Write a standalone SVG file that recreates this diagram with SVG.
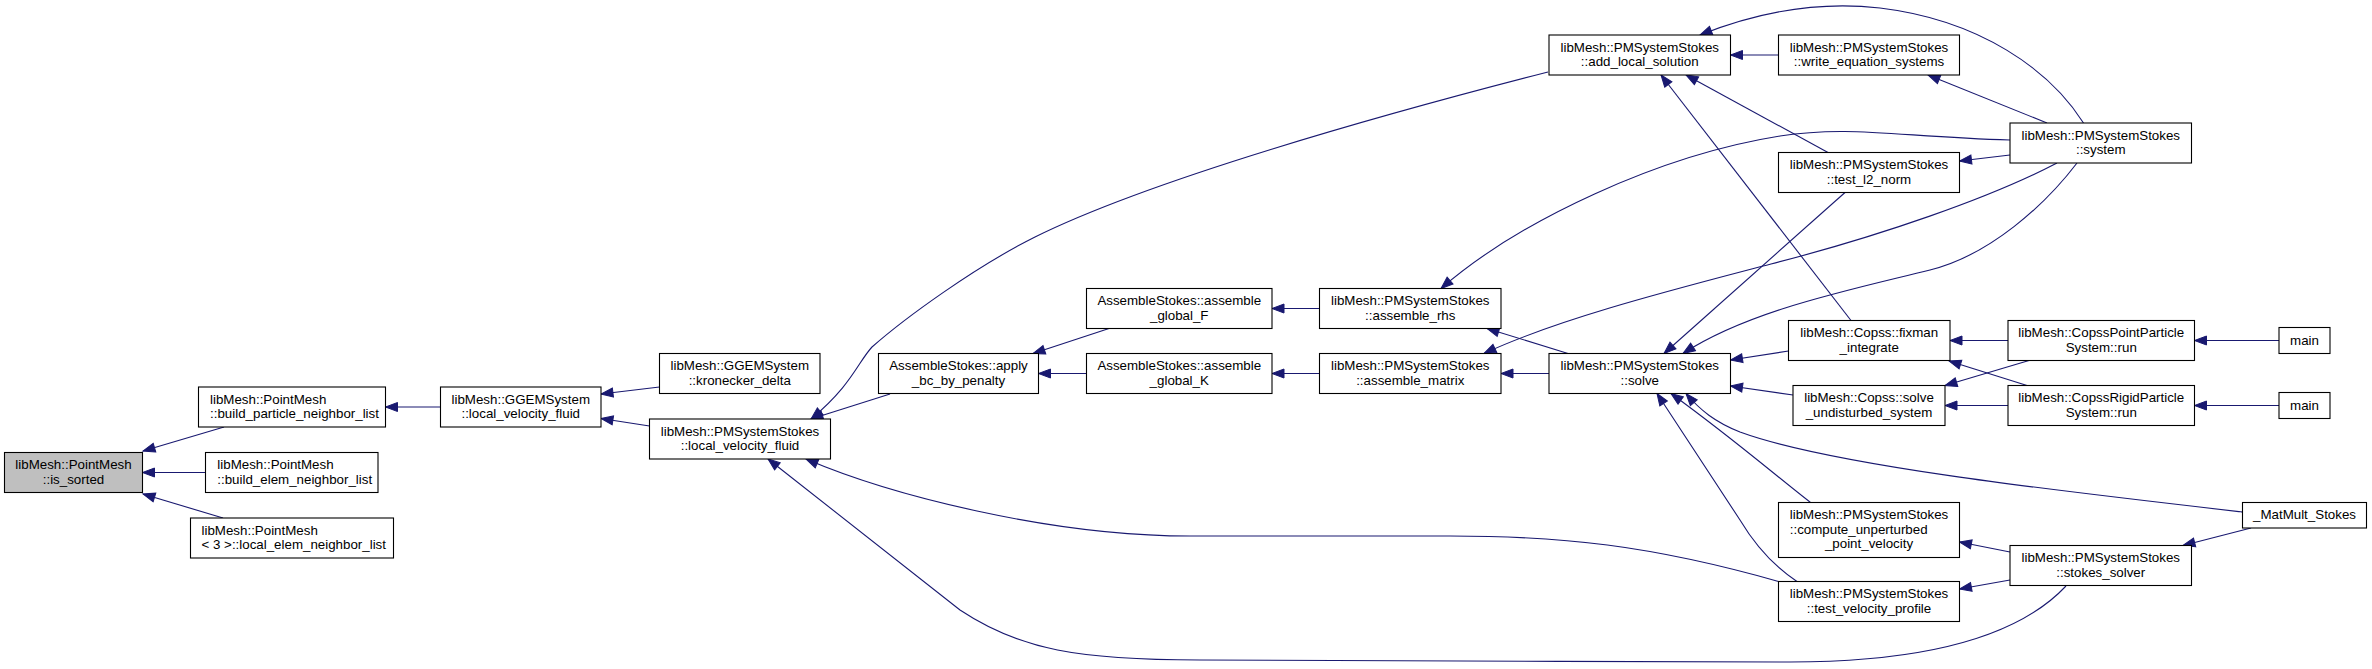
<svg xmlns="http://www.w3.org/2000/svg" width="2372" height="669" viewBox="0 0 2372 669">
<style>
.n rect{fill:#fff;stroke:#000;stroke-width:1.1}
.n text{font-family:"Liberation Sans",Arial,sans-serif;font-size:13.33px;fill:#000}
.c{text-anchor:middle}
.l{text-anchor:start}
.e path{fill:none;stroke:#191970;stroke-width:1.1;marker-end:url(#ah)}
</style>
<defs>
<marker id="ah" markerWidth="13" markerHeight="10" refX="12" refY="4.5" orient="auto" markerUnits="userSpaceOnUse" overflow="visible">
<path d="M0,0 L12,4.5 L0,9 z" fill="#191970" stroke="#191970" stroke-width="1"/>
</marker>
</defs>
<rect width="2372" height="669" fill="#fff"/>
<g id="edges" class="e">
<path d="M224,427 L143,451"/>
<path d="M205.5,472.5 L142.5,472.5"/>
<path d="M223,518 L143,494"/>
<path d="M440.5,407 L385.5,407"/>
<path d="M659.5,387 L601,394"/>
<path d="M649.5,426 L601,418.5"/>
<path d="M890,394 L811,419"/>
<path d="M1548,72 C1380,115 1150,180 1035,237 C975,267 905,318 872,347 C858,362 852,385 811,419"/>
<path d="M1109,328.5 L1033,353.5"/>
<path d="M1086.5,373.5 L1038.5,373.5"/>
<path d="M1319.5,308.5 L1272,308.5"/>
<path d="M1319.5,373.5 L1272,373.5"/>
<path d="M2010,140 C1900,137 1850,125 1780,136 C1660,155 1520,220 1441,288.5"/>
<path d="M1568,353.5 L1487,328.5"/>
<path d="M2057,163 C1990,198 1880,236 1771,264 C1680,288 1560,318 1484,353.5"/>
<path d="M1549,373.5 L1501,373.5"/>
<path d="M1778.5,55 L1730.5,55"/>
<path d="M2083.5,123 C2050,70 1980,20 1880,8 C1810,0 1750,15 1700,35"/>
<path d="M1828,152.5 L1686,75"/>
<path d="M1851,320.5 L1661,75"/>
<path d="M2047,123 L1928,75"/>
<path d="M2010,155 L1959.5,161"/>
<path d="M1845,192.5 L1664,353.5"/>
<path d="M2077,163 C2045,205 1990,255 1930,270 C1850,290 1750,310 1683,353.5"/>
<path d="M1788.5,351 L1730.5,360"/>
<path d="M1793,395 L1730.5,386"/>
<path d="M1810.5,502.5 C1775,475 1735,440 1671,393.5"/>
<path d="M1797,581.5 C1772,565 1755,545 1740,520 L1657,393.5"/>
<path d="M2242.5,512 C2050,490 1830,465 1740,432 C1715,422 1700,410 1686,393.5"/>
<path d="M2008,340.5 L1950,340.5"/>
<path d="M2027,385.5 L1949,361"/>
<path d="M2029,360.5 L1945,385.5"/>
<path d="M2008,405.5 L1945,405.5"/>
<path d="M2279,340.5 L2194.5,340.5"/>
<path d="M2279,405.5 L2194.5,405.5"/>
<path d="M2010,552 L1959.5,542"/>
<path d="M2010,580 L1959.5,589"/>
<path d="M2251,528 L2183,545.5"/>
<path d="M1778.5,581.5 C1650,545 1560,536 1450,536 L1190,536 C1050,536 890,495 806,459"/>
<path d="M2066,586 C2020,635 1930,662 1790,662 C1600,662 1350,660 1200,660 C1080,660 1020,650 960,610 L768,459"/>
</g>
<g id="n_is_sorted" class="n"><rect x="4.5" y="452.5" width="138" height="40" style="fill:#bfbfbf"/><text class="c" x="73.5" y="469">libMesh::PointMesh</text><text class="c" x="73.5" y="483.5">::is_sorted</text></g>
<g id="n_build_particle" class="n"><rect x="198.5" y="387" width="187" height="40"/><text class="l" x="210" y="403.5">libMesh::PointMesh</text><text class="l" x="210" y="418">::build_particle_neighbor_list</text></g>
<g id="n_build_elem" class="n"><rect x="205.5" y="452.5" width="172.5" height="40"/><text class="l" x="217.3" y="469">libMesh::PointMesh</text><text class="l" x="217.3" y="483.5">::build_elem_neighbor_list</text></g>
<g id="n_local_elem" class="n"><rect x="190.5" y="518" width="203" height="40"/><text class="l" x="201.5" y="534.5">libMesh::PointMesh</text><text class="l" x="201.5" y="549">&lt; 3 &gt;::local_elem_neighbor_list</text></g>
<g id="n_ggem_lvf" class="n"><rect x="440.5" y="387" width="160.5" height="40"/><text class="c" x="520.75" y="403.5">libMesh::GGEMSystem</text><text class="c" x="520.75" y="418">::local_velocity_fluid</text></g>
<g id="n_kronecker" class="n"><rect x="659.5" y="353.5" width="160.5" height="40"/><text class="c" x="739.75" y="370">libMesh::GGEMSystem</text><text class="c" x="739.75" y="384.5">::kronecker_delta</text></g>
<g id="n_pms_lvf" class="n"><rect x="649.5" y="419" width="181" height="40"/><text class="c" x="740" y="435.5">libMesh::PMSystemStokes</text><text class="c" x="740" y="450">::local_velocity_fluid</text></g>
<g id="n_apply_bc" class="n"><rect x="878.5" y="353.5" width="160" height="40"/><text class="c" x="958.5" y="370">AssembleStokes::apply</text><text class="c" x="958.5" y="384.5">_bc_by_penalty</text></g>
<g id="n_global_F" class="n"><rect x="1086.5" y="288.5" width="185.5" height="40"/><text class="c" x="1179.25" y="305">AssembleStokes::assemble</text><text class="c" x="1179.25" y="319.5">_global_F</text></g>
<g id="n_global_K" class="n"><rect x="1086.5" y="353.5" width="185.5" height="40"/><text class="c" x="1179.25" y="370">AssembleStokes::assemble</text><text class="c" x="1179.25" y="384.5">_global_K</text></g>
<g id="n_assemble_rhs" class="n"><rect x="1319.5" y="288.5" width="181.5" height="40"/><text class="c" x="1410.25" y="305">libMesh::PMSystemStokes</text><text class="c" x="1410.25" y="319.5">::assemble_rhs</text></g>
<g id="n_assemble_matrix" class="n"><rect x="1319.5" y="353.5" width="181.5" height="40"/><text class="c" x="1410.25" y="370">libMesh::PMSystemStokes</text><text class="c" x="1410.25" y="384.5">::assemble_matrix</text></g>
<g id="n_add_local_solution" class="n"><rect x="1549" y="35" width="181.5" height="40"/><text class="c" x="1639.75" y="51.5">libMesh::PMSystemStokes</text><text class="c" x="1639.75" y="66">::add_local_solution</text></g>
<g id="n_write_eq" class="n"><rect x="1778.5" y="35" width="181" height="40"/><text class="c" x="1869" y="51.5">libMesh::PMSystemStokes</text><text class="c" x="1869" y="66">::write_equation_systems</text></g>
<g id="n_system" class="n"><rect x="2010" y="123" width="181.5" height="40"/><text class="c" x="2100.75" y="139.5">libMesh::PMSystemStokes</text><text class="c" x="2100.75" y="154">::system</text></g>
<g id="n_test_l2" class="n"><rect x="1778.5" y="152.5" width="181" height="40"/><text class="c" x="1869" y="169">libMesh::PMSystemStokes</text><text class="c" x="1869" y="183.5">::test_l2_norm</text></g>
<g id="n_solve" class="n"><rect x="1549" y="353.5" width="181.5" height="40"/><text class="c" x="1639.75" y="370">libMesh::PMSystemStokes</text><text class="c" x="1639.75" y="384.5">::solve</text></g>
<g id="n_fixman" class="n"><rect x="1788.5" y="320.5" width="161.5" height="40"/><text class="c" x="1869.25" y="337">libMesh::Copss::fixman</text><text class="c" x="1869.25" y="351.5">_integrate</text></g>
<g id="n_copss_point" class="n"><rect x="2008" y="320.5" width="186.5" height="40"/><text class="c" x="2101.25" y="337">libMesh::CopssPointParticle</text><text class="c" x="2101.25" y="351.5">System::run</text></g>
<g id="n_main1" class="n"><rect x="2279" y="327.5" width="51" height="26"/><text class="c" x="2304.5" y="344.5">main</text></g>
<g id="n_undisturbed" class="n"><rect x="1793" y="385.5" width="152" height="40"/><text class="c" x="1869" y="402">libMesh::Copss::solve</text><text class="c" x="1869" y="416.5">_undisturbed_system</text></g>
<g id="n_copss_rigid" class="n"><rect x="2008" y="385.5" width="186.5" height="40"/><text class="c" x="2101.25" y="402">libMesh::CopssRigidParticle</text><text class="c" x="2101.25" y="416.5">System::run</text></g>
<g id="n_main2" class="n"><rect x="2279" y="392.5" width="51" height="26"/><text class="c" x="2304.5" y="409.5">main</text></g>
<g id="n_compute" class="n"><rect x="1778.5" y="502.5" width="181" height="55"/><text class="c" x="1869" y="519">libMesh::PMSystemStokes</text><text class="l" x="1789.75" y="533.5">::compute_unperturbed</text><text class="c" x="1869" y="548">_point_velocity</text></g>
<g id="n_matmult" class="n"><rect x="2242.5" y="502.5" width="124" height="25.5"/><text class="c" x="2304.5" y="518.5">_MatMult_Stokes</text></g>
<g id="n_stokes_solver" class="n"><rect x="2010" y="545.5" width="181.5" height="40"/><text class="c" x="2100.75" y="562">libMesh::PMSystemStokes</text><text class="c" x="2100.75" y="576.5">::stokes_solver</text></g>
<g id="n_test_velocity" class="n"><rect x="1778.5" y="581.5" width="181" height="40"/><text class="c" x="1869" y="598">libMesh::PMSystemStokes</text><text class="c" x="1869" y="612.5">::test_velocity_profile</text></g>
</svg>
